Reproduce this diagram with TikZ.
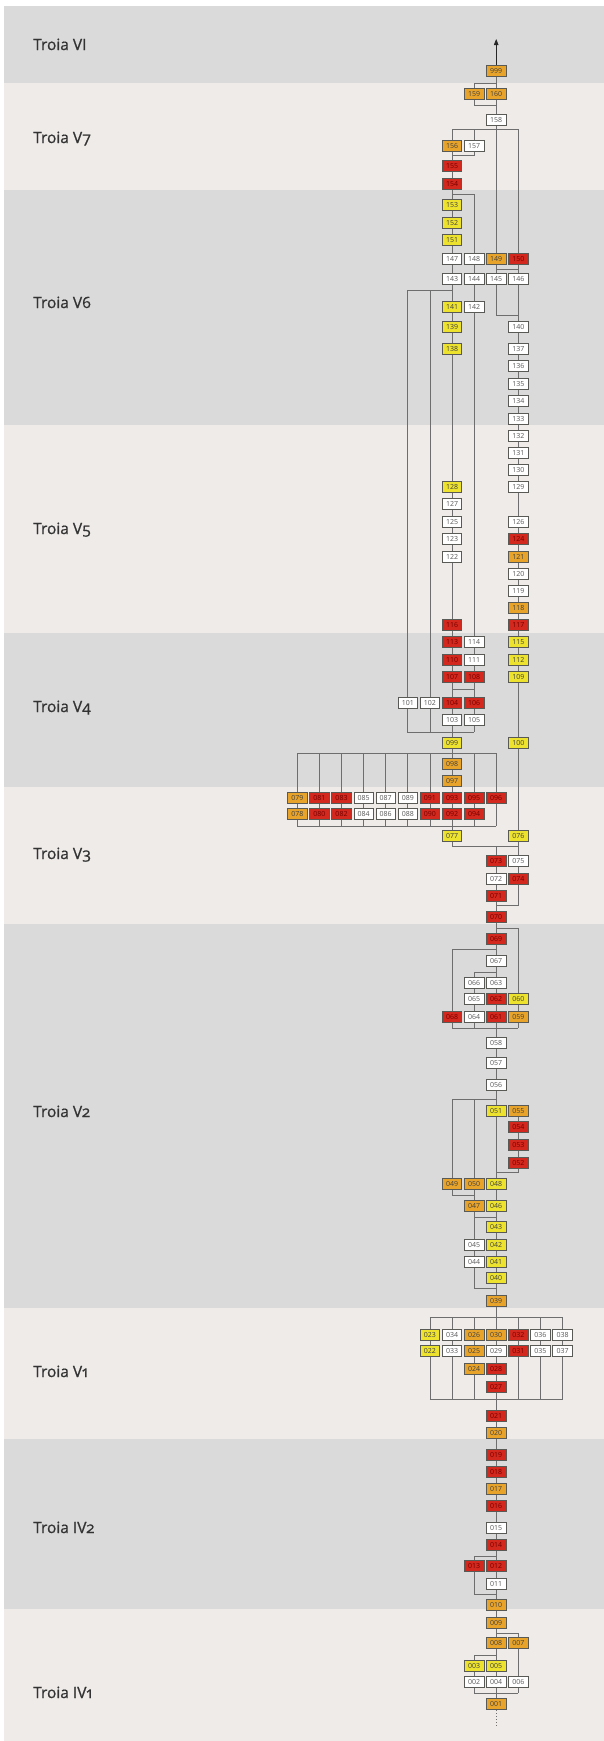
\documentclass[tikz,border=0pt]{standalone}
\usepackage{fontspec}
\setmainfont{Open Sans}
\newfontfamily\labfont{Open Sans}[Numbers=OldStyle,FakeBold=0.9]
\usetikzlibrary{arrows.meta}
\pgfdeclarelayer{bands}
\pgfdeclarelayer{lines}
\pgfsetlayers{bands,lines,main}
\definecolor{bandD}{HTML}{DADADA}
\definecolor{bandL}{HTML}{EEEBE8}
\definecolor{cY}{HTML}{EDE22E}
\definecolor{cO}{HTML}{E8A42A}
\definecolor{cR}{HTML}{D3281D}
\definecolor{lineC}{HTML}{6E6E6E}
\definecolor{edgeC}{HTML}{595955}
\definecolor{labC}{HTML}{333333}
\tikzset{
  box/.style={draw=edgeC, line width=0.7pt, minimum width=19.5pt, minimum height=11.5pt,
    inner sep=0pt, font=\fontsize{7}{7}\selectfont, text=black!65},
  bW/.style={box, fill=white},
  bY/.style={box, fill=cY, text=black!75},
  bO/.style={box, fill=cO, text=black!75},
  bR/.style={box, fill=cR, text=red!45!black},
  conn/.style={draw=lineC, line width=0.8pt},
  lab/.style={anchor=base west, inner sep=0pt, text=labC, font=\labfont\fontsize{15.5}{15.5}\selectfont}
}
\newcommand\B[4]{\node[#4] (b#1) at ({452+22.1*(#2)},#3) {#1};}
\begin{document}
\begin{tikzpicture}[x=1pt,y=-1pt]
\useasboundingbox (0,0) rectangle (604,1741);
\begin{pgfonlayer}{bands}
\fill[white] (0,0) rectangle (604,1741);
\fill[bandD] (4,6) rectangle (604,83);
\fill[bandL] (4,83) rectangle (604,190);
\fill[bandD] (4,190) rectangle (604,425);
\fill[bandL] (4,425) rectangle (604,633);
\fill[bandD] (4,633) rectangle (604,787);
\fill[bandL] (4,787) rectangle (604,924);
\fill[bandD] (4,924) rectangle (604,1308);
\fill[bandL] (4,1308) rectangle (604,1439);
\fill[bandD] (4,1439) rectangle (604,1609);
\fill[bandL] (4,1609) rectangle (604,1741);
\end{pgfonlayer}
\node[lab] (lVI) at (33,50) {Troia VI};
\node[lab] (lV7) at (33,143) {Troia V7};
\node[lab] (lV6) at (33,308) {Troia V6};
\node[lab] (lV5) at (33,534) {Troia V5};
\node[lab] (lV4) at (33,712) {Troia V4};
\node[lab] (lV3) at (33,859) {Troia V3};
\node[lab] (lV2) at (33,1117) {Troia V2};
\node[lab] (lV1) at (33,1377) {Troia V1};
\node[lab] (lIV2) at (33,1533) {Troia IV2};
\node[lab] (lIV1) at (33,1698) {Troia IV1};
% boxes
\B{999}{2}{71}{bO}
\B{159}{1}{94}{bO}
\B{160}{2}{94}{bO}
\B{158}{2}{120}{bW}
\B{156}{0}{146}{bO}
\B{157}{1}{146}{bW}
\B{155}{0}{166}{bR}
\B{154}{0}{184}{bR}
\B{153}{0}{205}{bY}
\B{152}{0}{223}{bY}
\B{151}{0}{240}{bY}
\B{147}{0}{259}{bW}
\B{148}{1}{259}{bW}
\B{149}{2}{259}{bO}
\B{150}{3}{259}{bR}
\B{143}{0}{279}{bW}
\B{144}{1}{279}{bW}
\B{145}{2}{279}{bW}
\B{146}{3}{279}{bW}
\B{141}{0}{307}{bY}
\B{142}{1}{307}{bW}
\B{139}{0}{327}{bY}
\B{140}{3}{327}{bW}
\B{138}{0}{349}{bY}
\B{137}{3}{349}{bW}
\B{136}{3}{366}{bW}
\B{135}{3}{384}{bW}
\B{134}{3}{401}{bW}
\B{133}{3}{419}{bW}
\B{132}{3}{436}{bW}
\B{131}{3}{453}{bW}
\B{130}{3}{470}{bW}
\B{129}{3}{487}{bW}
\B{128}{0}{487}{bY}
\B{127}{0}{504}{bW}
\B{126}{3}{522}{bW}
\B{125}{0}{522}{bW}
\B{124}{3}{539}{bR}
\B{123}{0}{539}{bW}
\B{121}{3}{557}{bO}
\B{122}{0}{557}{bW}
\B{120}{3}{574}{bW}
\B{119}{3}{591}{bW}
\B{118}{3}{608}{bO}
\B{117}{3}{625}{bR}
\B{116}{0}{625}{bR}
\B{115}{3}{642}{bY}
\B{113}{0}{642}{bR}
\B{114}{1}{642}{bW}
\B{112}{3}{660}{bY}
\B{110}{0}{660}{bR}
\B{111}{1}{660}{bW}
\B{109}{3}{677}{bY}
\B{107}{0}{677}{bR}
\B{108}{1}{677}{bR}
\B{101}{-2}{703}{bW}
\B{102}{-1}{703}{bW}
\B{104}{0}{703}{bR}
\B{106}{1}{703}{bR}
\B{103}{0}{720}{bW}
\B{105}{1}{720}{bW}
\B{099}{0}{743}{bY}
\B{100}{3}{743}{bY}
\B{098}{0}{764}{bO}
\B{097}{0}{781}{bO}
\B{079}{-7}{798}{bO}
\B{081}{-6}{798}{bR}
\B{083}{-5}{798}{bR}
\B{085}{-4}{798}{bW}
\B{087}{-3}{798}{bW}
\B{089}{-2}{798}{bW}
\B{091}{-1}{798}{bR}
\B{093}{0}{798}{bR}
\B{095}{1}{798}{bR}
\B{096}{2}{798}{bR}
\B{078}{-7}{814}{bO}
\B{080}{-6}{814}{bR}
\B{082}{-5}{814}{bR}
\B{084}{-4}{814}{bW}
\B{086}{-3}{814}{bW}
\B{088}{-2}{814}{bW}
\B{090}{-1}{814}{bR}
\B{092}{0}{814}{bR}
\B{094}{1}{814}{bR}
\B{077}{0}{836}{bY}
\B{076}{3}{836}{bY}
\B{073}{2}{861}{bR}
\B{075}{3}{861}{bW}
\B{072}{2}{879}{bW}
\B{074}{3}{879}{bR}
\B{071}{2}{896}{bR}
\B{070}{2}{917}{bR}
\B{069}{2}{939}{bR}
\B{067}{2}{961}{bW}
\B{066}{1}{983}{bW}
\B{063}{2}{983}{bW}
\B{065}{1}{999}{bW}
\B{062}{2}{999}{bR}
\B{060}{3}{999}{bY}
\B{068}{0}{1017}{bR}
\B{064}{1}{1017}{bW}
\B{061}{2}{1017}{bR}
\B{059}{3}{1017}{bO}
\B{058}{2}{1043}{bW}
\B{057}{2}{1063}{bW}
\B{056}{2}{1085}{bW}
\B{051}{2}{1111}{bY}
\B{055}{3}{1111}{bO}
\B{054}{3}{1127}{bR}
\B{053}{3}{1145}{bR}
\B{052}{3}{1163}{bR}
\B{049}{0}{1184}{bO}
\B{050}{1}{1184}{bO}
\B{048}{2}{1184}{bY}
\B{047}{1}{1206}{bO}
\B{046}{2}{1206}{bY}
\B{043}{2}{1227}{bY}
\B{045}{1}{1245}{bW}
\B{042}{2}{1245}{bY}
\B{044}{1}{1262}{bW}
\B{041}{2}{1262}{bY}
\B{040}{2}{1278}{bY}
\B{039}{2}{1301}{bO}
\B{023}{-1}{1335}{bY}
\B{034}{0}{1335}{bW}
\B{026}{1}{1335}{bO}
\B{030}{2}{1335}{bO}
\B{032}{3}{1335}{bR}
\B{036}{4}{1335}{bW}
\B{038}{5}{1335}{bW}
\B{022}{-1}{1351}{bY}
\B{033}{0}{1351}{bW}
\B{025}{1}{1351}{bO}
\B{029}{2}{1351}{bW}
\B{031}{3}{1351}{bR}
\B{035}{4}{1351}{bW}
\B{037}{5}{1351}{bW}
\B{024}{1}{1369}{bO}
\B{028}{2}{1369}{bR}
\B{027}{2}{1387}{bR}
\B{021}{2}{1416}{bR}
\B{020}{2}{1433}{bO}
\B{019}{2}{1455}{bR}
\B{018}{2}{1472}{bR}
\B{017}{2}{1489}{bO}
\B{016}{2}{1506}{bR}
\B{015}{2}{1528}{bW}
\B{014}{2}{1545}{bR}
\B{013}{1}{1566}{bR}
\B{012}{2}{1566}{bR}
\B{011}{2}{1584}{bW}
\B{010}{2}{1605}{bO}
\B{009}{2}{1623}{bO}
\B{008}{2}{1643}{bO}
\B{007}{3}{1643}{bO}
\B{003}{1}{1666}{bY}
\B{005}{2}{1666}{bY}
\B{002}{1}{1682}{bW}
\B{004}{2}{1682}{bW}
\B{006}{3}{1682}{bW}
\B{001}{2}{1704}{bO}
\foreach \y in {39,83,105,129,155,194,269,290,315,689,732,753,826,846,905,928,949,972,1028,1099,1172,1195,1217,1288,1317,1399,1556,1594,1633,1655,1693,1728} {\coordinate (h\y) at (0,\y);}
\begin{pgfonlayer}{lines}
\draw[conn,draw=black!85,-{Triangle[length=6pt,width=4.5pt]}] (b999.center) -- (b999 |- h39);
\draw[conn] (b999) -- (b160);
\draw[conn] (b160 |- h83) -| (b159) |- (b160 |- h105);
\draw[conn] (b160) -- (b158) -- (b149);
\draw[conn] (b156 |- h129) -- (b150 |- h129);
\draw[conn] (b156 |- h129) -- (b156);
\draw[conn] (b157 |- h129) -- (b157) |- (b156 |- h155);
\draw[conn] (b150 |- h129) -- (b150);
\draw[conn] (b156) -- (b155) -- (b154) -- (b153) -- (b152) -- (b151) -- (b147) -- (b143) -- (b141) -- (b139) -- (b138) -- (b128) -- (b127) -- (b125) -- (b123) -- (b122) -- (b116) -- (b113) -- (b110) -- (b107) -- (b104) -- (b103) -- (b099) -- (b098) -- (b097) -- (b093) -- (b092) -- (b077);
\draw[conn] (b154 |- h194) -| (b148);
\draw[conn] (b148) -- (b144) -- (b142) -- (b114) -- (b111) -- (b108) -- (b106) -- (b105);
\draw[conn] (b149) -- (b145);
\draw[conn] (b150) -- (b146) -- (b140);
\draw[conn] (b145 |- h269) -- (b146 |- h269);
\draw[conn] (b145) |- (b146 |- h315);
\draw[conn] (b101 |- h290) -- (b143 |- h290);
\draw[conn] (b101 |- h290) -- (b101) -- (b101 |- h732) -- (b105 |- h732);
\draw[conn] (b102 |- h290) -- (b102) -- (b102 |- h732);
\draw[conn] (b105) -- (b105 |- h732);
\draw[conn] (b140) -- (b137) -- (b136) -- (b135) -- (b134) -- (b133) -- (b132) -- (b131) -- (b130) -- (b129) -- (b126) -- (b124) -- (b121) -- (b120) -- (b119) -- (b118) -- (b117) -- (b115) -- (b112) -- (b109) -- (b100) -- (b076) -- (b075) -- (b074);
\draw[conn] (b107 |- h689) -- (b108 |- h689);
\draw[conn] (b079 |- h753) -- (b096 |- h753);
\foreach \a/\b in {079/078,081/080,083/082,085/084,087/086,089/088,091/090,095/094} {\draw[conn] (b\a |- h753) -- (b\a) -- (b\b) -- (b\b |- h826);}
\draw[conn] (b096 |- h753) -- (b096) -- (b096 |- h826);
\draw[conn] (b078 |- h826) -- (b096 |- h826);
\draw[conn] (b077) |- (b075 |- h846);
\draw[conn] (b073 |- h846) -- (b073) -- (b072) -- (b071) -- (b070) -- (b069) -- (b067) -- (b063) -- (b062) -- (b061) -- (b058) -- (b057) -- (b056) -- (b051) -- (b048) -- (b046) -- (b043) -- (b042) -- (b041) -- (b040) -- (b039) -- (b030) -- (b029) -- (b028) -- (b027) -- (b021) -- (b020) -- (b019) -- (b018) -- (b017) -- (b016) -- (b015) -- (b014) -- (b012) -- (b011) -- (b010) -- (b009) -- (b008) -- (b005) -- (b004) -- (b001);
\draw[conn] (b074) |- (b071 |- h905);
\draw[conn] (b070 |- h928) -| (b060);
\draw[conn] (b060) -- (b059) -- (b059 |- h1028);
\draw[conn] (b068 |- h949) -- (b069 |- h949);
\draw[conn] (b068 |- h949) -- (b068) -- (b068 |- h1028) -- (b059 |- h1028);
\draw[conn] (b066 |- h972) -- (b067 |- h972);
\draw[conn] (b066 |- h972) -- (b066) -- (b065) -- (b064) -- (b064 |- h1028);
\draw[conn] (b049 |- h1099) -- (b056 |- h1099);
\draw[conn] (b049 |- h1099) -- (b049) |- (b050 |- h1195);
\draw[conn] (b050 |- h1099) -- (b050) -- (b047) -- (b045) -- (b044) |- (b040 |- h1288);
\draw[conn] (b055) -- (b054) -- (b053) -- (b052) |- (b048 |- h1172);
\draw[conn] (b047 |- h1217) -- (b046 |- h1217);
\draw[conn] (b023 |- h1317) -- (b038 |- h1317);
\draw[conn] (b022 |- h1399) -- (b037 |- h1399);
\draw[conn] (b023 |- h1317) -- (b023) -- (b022) -- (b022 |- h1399);
\draw[conn] (b034 |- h1317) -- (b034) -- (b033) -- (b033 |- h1399);
\draw[conn] (b026 |- h1317) -- (b026) -- (b025) -- (b024) -- (b024 |- h1399);
\draw[conn] (b032 |- h1317) -- (b032) -- (b031) -- (b031 |- h1399);
\draw[conn] (b036 |- h1317) -- (b036) -- (b035) -- (b035 |- h1399);
\draw[conn] (b038 |- h1317) -- (b038) -- (b037) -- (b037 |- h1399);
\draw[conn] (b014 |- h1556) -| (b013) |- (b011 |- h1594);
\draw[conn] (b009 |- h1633) -| (b007) -- (b006) -- (b006 |- h1693);
\draw[conn] (b008 |- h1655) -| (b003) -- (b002) |- (b006 |- h1693);
\draw[conn,dash pattern=on 1pt off 2pt] (b001) -- (b001 |- h1728);
\end{pgfonlayer}
\end{tikzpicture}
\end{document}
